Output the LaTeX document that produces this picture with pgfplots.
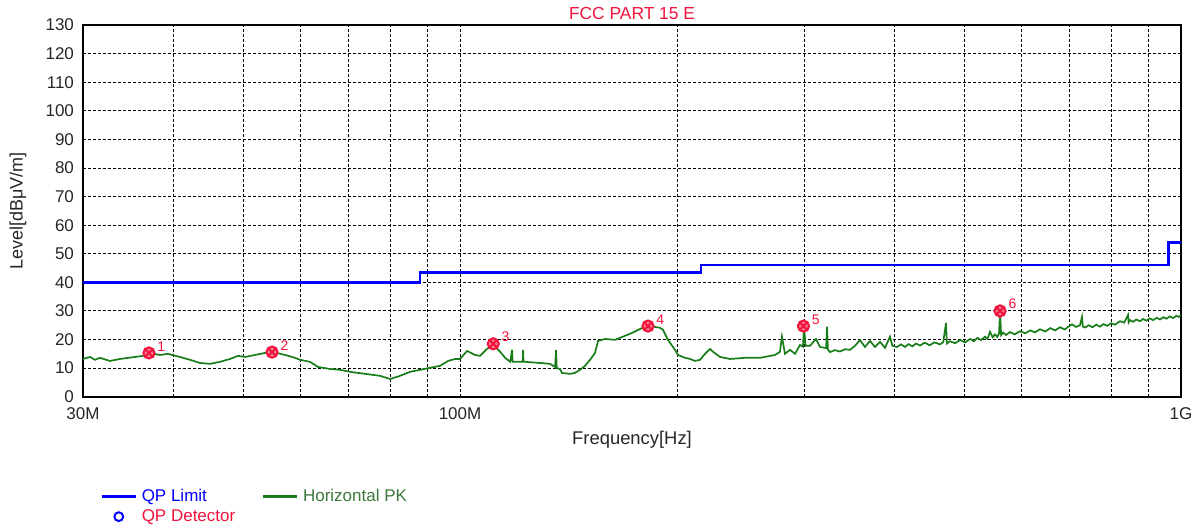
\documentclass[border=0pt]{standalone}
\usepackage{pgfplots}
\pgfplotsset{compat=1.18}
\usepackage{fontspec}
\setmainfont{Liberation Sans}
\setsansfont{Liberation Sans}
\usetikzlibrary{plotmarks}
\definecolor{limblue}{RGB}{0,0,255}
\definecolor{trgreen}{RGB}{25,125,25}
\definecolor{legreen}{RGB}{60,120,60}
\definecolor{mkred}{RGB}{240,20,60}
\begin{document}
\begin{tikzpicture}
\useasboundingbox (-41.5pt,-65.15pt) rectangle (557.5pt,198.35pt);
\begin{axis}[
  scale only axis, width=549pt, height=185.85pt,
  xmode=log, xmin=30, xmax=1000, ymin=0, ymax=130,
  log basis x=10,
  xtick={30,100,1000}, xticklabels={30M,100M,1G},
  minor xtick={40,50,60,70,80,90,200,300,400,500,600,700,800,900},
  ytick={0,10,...,130},
  major tick length=0pt, minor tick length=0pt,
  grid=both,
  major grid style={black, line width=0.45pt, dash pattern=on 1.5pt off 1pt},
  minor grid style={black, line width=0.45pt, dash pattern=on 1.5pt off 1pt},
  axis line style={black, line width=0.8pt},
  /pgf/number format/assume math mode=true,
  ticklabel style={font=\fontsize{8.5}{9}\selectfont, text=black!85},
  yticklabel style={xshift=-1pt},
  xticklabel style={yshift=-2pt},
  title={FCC PART 15 E},
  title style={at={(axis description cs:0.5,1)}, anchor=center, yshift=-0.5pt, font=\fontsize{8.7}{9}\selectfont, text=mkred},
  xlabel={Frequency[Hz]},
  xlabel style={at={(axis description cs:0.5,0)}, anchor=center, yshift=-21.5pt, font=\fontsize{9.2}{10}\selectfont, text=black!85},
  ylabel={Level[dBμV/m]},
  ylabel style={at={(axis description cs:0,0.5)}, anchor=center, yshift=32.5pt, font=\fontsize{9}{10}\selectfont, text=black!85},
  legend columns=2,
  legend style={at={(axis description cs:0,0)}, anchor=north west, xshift=8.5pt, yshift=-43.5pt,
    draw=none, fill=none, inner sep=0pt, font=\fontsize{8.5}{9}\selectfont,
    nodes={inner sep=2.3pt}, row sep=-2pt, /tikz/every even column/.append style={column sep=11pt}},
  legend cell align=left,
]
% QP limit
\addplot[const plot, limblue, line width=1.3pt] coordinates {
(30,40) (88,40) (88,43.5) (216,43.5) (216,46) (960,46) (960,54) (1000,54)};
\addlegendentry{\textcolor{limblue}{QP Limit}}
% Horizontal PK trace
\addplot[trgreen, line width=0.85pt, legend image post style={line width=1.2pt}] table {
30.00 13.2
30.68 13.9
31.17 12.9
31.67 13.6
32.70 12.5
33.76 13.2
35.42 13.9
36.34 14.3
37.04 15.3
38.37 14.6
39.36 15.0
39.86 14.6
40.90 13.9
42.22 12.9
43.60 11.8
45.01 11.5
46.47 12.2
47.97 13.2
49.22 14.3
50.33 13.9
51.96 14.6
53.64 15.3
54.87 15.7
57.20 14.6
59.04 13.6
60.00 12.9
61.94 12.2
63.55 10.4
66.04 9.7
68.18 9.4
70.39 8.7
73.84 8.0
77.47 7.3
79.98 6.2
82.57 7.3
85.25 8.7
88.02 9.4
90.88 10.1
93.82 10.8
96.25 12.5
98.43 13.2
100.0 13.2
102.3 16.0
104.9 14.6
106.6 14.3
109.0 16.7
111.2 18.1
113.7 15.7
115.5 13.6
117.4 12.2
118.1 16.4
118.3 12.2
119.2 12.2
122.2 12.2
122.3 16.4
122.5 12.2
123.1 12.2
129.1 11.8
133.3 11.5
135.5 10.4
135.9 16.4
136.2 10.0
137.6 9.7
138.5 8.3
142.1 8.0
144.3 8.3
146.7 9.4
149.1 10.8
151.5 12.9
153.9 15.3
155.4 19.5
158.9 20.2
164.1 19.9
166.7 20.6
169.4 21.3
173.2 22.3
177.7 23.7
182.3 24.8
189.4 24.1
191.2 23.4
194.3 19.9
198.7 16.4
200.6 14.6
205.2 13.6
208.5 13.2
211.8 12.5
215.2 12.9
218.7 15.0
222.2 16.7
224.4 15.7
229.4 13.9
236.9 13.2
248.5 13.6
260.7 13.6
273.5 14.6
277.8 15.7
279.6 21.0
282.3 15.0
286.9 16.4
291.5 15.0
296.2 18.1
299.0 17.5
300.0 24.5
301.5 17.8
305.8 17.8
311.7 20.2
315.7 17.4
322.0 17.0
322.9 24.5
323.8 16.5
326.0 15.6
331.0 16.3
336.5 15.8
342.0 16.6
347.5 16.4
353.0 17.8
358.7 19.8
364.5 17.4
370.4 19.5
376.4 17.4
382.4 19.2
388.6 17.1
394.8 21.0
398.0 17.8
403.8 17.4
409 18.3
414.2 17.4
419 18.4
424 17.6
429 18.6
434.5 17.9
441 18.9
448 18.0
455 19.0
463.1 18.3
468 19.1
472.1 25.8
473.5 18.6
478.1 19.4
486 18.7
494 19.8
502 19.0
509.8 20.2
516 19.4
522 20.6
528 19.8
534.8 21.0
539 20.2
543.4 22.7
548 20.8
552.2 21.8
556 20.9
559.3 22.2
561.1 30.0
563 21.5
566.5 22.4
572 21.6
579.2 22.6
588 21.8
598.1 22.9
608 22.2
618 23.2
627 22.5
637.5 23.6
648 22.8
659 24.0
669 23.2
679.5 24.3
690 23.5
697 24.4
706.1 25.3
715 24.4
724.3 25.0
729.0 27.9
731 24.5
736.0 24.2
745 25.0
754 24.3
763 25.2
772.0 24.5
781 25.4
790 24.8
800 25.7
810.0 25.2
816 25.8
823.1 26.4
834 25.9
844.3 28.6
846 26.0
849.7 26.8
858 26.2
867 27.0
877.3 26.4
886 27.2
895 26.6
905 27.4
915 26.8
925 27.6
935.1 27.0
945 27.8
955 27.3
965 28.1
975 27.5
985 28.3
993 27.9
1000 28.6
};
\addlegendentry{\textcolor{legreen}{Horizontal PK}}
\addlegendimage{only marks, mark=o, limblue, mark size=2.2pt, line width=1pt}
\addlegendentry{\textcolor{mkred}{QP Detector}}
% peak markers
\addplot[only marks, mark=otimes*, mkred, mark options={fill=mkred!55}, mark size=2.8pt, line width=1pt, forget plot] table {
37.04 15.3
54.87 15.6
111.2 18.5
182.3 24.7
299.5 24.7
561.1 30.0
};
\begin{scope}[every node/.style={anchor=south west, inner sep=0pt, font=\fontsize{7}{7}\selectfont, text=mkred}]
\node at (axis cs:38.0,15.8) {1};
\node at (axis cs:56.3,16.1) {2};
\node at (axis cs:114.1,19.0) {3};
\node at (axis cs:187.0,25.2) {4};
\node at (axis cs:307.3,25.2) {5};
\node at (axis cs:575.7,30.5) {6};
\end{scope}
\end{axis}
\end{tikzpicture}
\end{document}
